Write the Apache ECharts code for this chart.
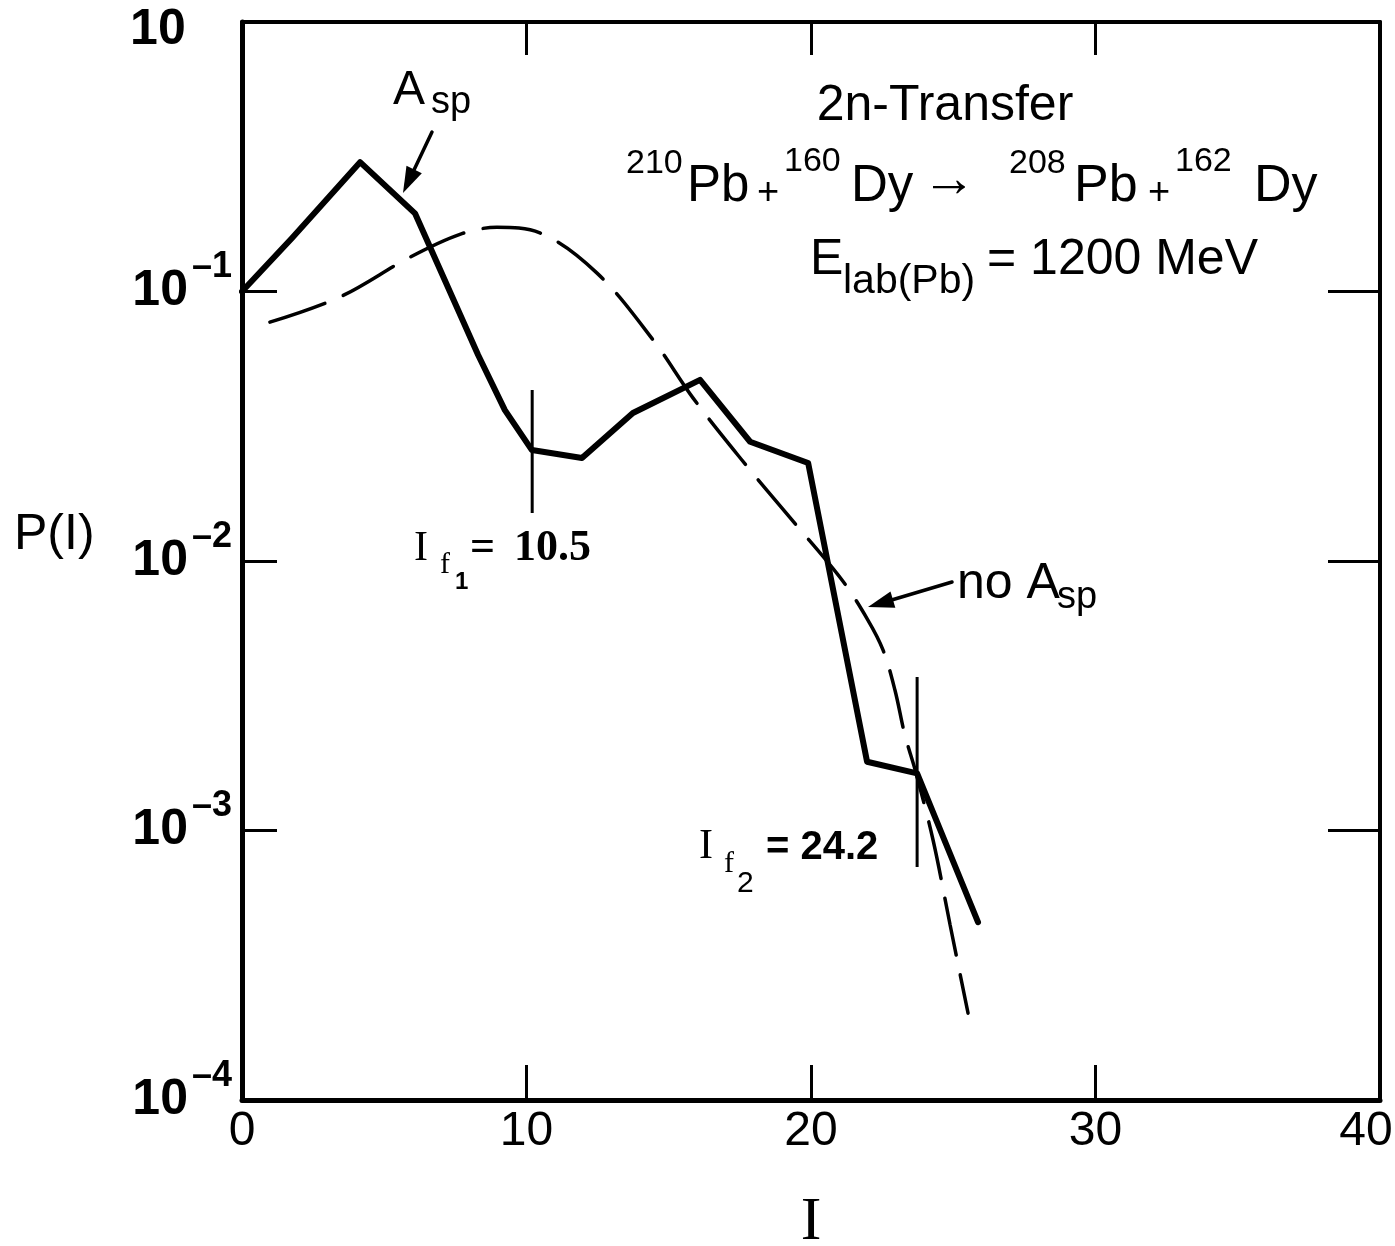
<!DOCTYPE html>
<html><head><meta charset="utf-8">
<script src="https://cdn.jsdelivr.net/npm/echarts@6/dist/echarts.min.js"></script>
<style>html,body{margin:0;padding:0;background:#fff}#c{width:1395px;height:1246px}</style>
</head><body><div id="c"></div>
<script>
// ---------- data ----------
const xTickValues = [0, 10, 20, 30, 40];
const yTickValues = [1, 0.1, 0.01, 0.001, 0.0001];
const yTickExponents = ['', '\u20131', '\u20132', '\u20133', '\u20134'];

// solid curve: with A_sp
const withAspI = [0, 1.76, 4.15, 6.08, 8.30, 9.24, 10.19, 11.95, 13.74, 16.1, 17.86, 19.9, 21.97, 23.73, 25.87];
const withAspP = [0.1, 0.158, 0.302, 0.195, 0.0581, 0.0363, 0.0258, 0.0241, 0.0354, 0.0470, 0.0277, 0.0231, 0.00180, 0.00163, 0.000457];

// dashed curve: no A_sp
const noAspI = [0.98, 3.44, 5.90, 7.66, 8.96, 10.47, 12.48, 14.45, 15.85, 17.57, 19.33, 21.09, 22.0, 22.53, 22.95, 23.30, 23.66, 24.29, 24.89, 25.52];
const noAspP = [0.0770, 0.0954, 0.134, 0.163, 0.173, 0.165, 0.117, 0.0661, 0.0403, 0.0237, 0.0142, 0.00850, 0.00604, 0.00468, 0.00332, 0.00226, 0.00168, 0.000922, 0.000446, 0.000210];

// vertical markers I_f1, I_f2
const markerI = [10.2, 23.73];
const markerPHigh = [0.0431, 0.00371];
const markerPLow = [0.01507, 0.000732];

// ---------- chart ----------
const FONT = "'Liberation Sans', Arial, Helvetica, sans-serif";
const SERIF = "'Liberation Serif', 'Times New Roman', serif";
const chart = echarts.init(document.getElementById('c'), null, {renderer: 'canvas'});

function zip(a, b) { return a.map((v, i) => [v, b[i]]); }

const markerSeries = markerI.map((I, k) => ({
  type: 'line', data: [[I, markerPHigh[k]], [I, markerPLow[k]]],
  xAxisIndex: 1, yAxisIndex: 1,
  showSymbol: false, symbol: 'none', silent: true,
  lineStyle: {color: '#000', width: 3}, z: 4
}));

function yLabel(v) {
  const k = yTickValues.findIndex(t => Math.abs(Math.log10(t) - Math.log10(v)) < 1e-6);
  if (k < 0) return '';
  if (yTickExponents[k] === '') return '{t|10}{u| }';
  return '{b|10}{s|' + yTickExponents[k] + '}';
}
function xLabel(v) {
  if (!xTickValues.includes(v)) return '';
  return v === xTickValues[xTickValues.length - 1] ? '{r|' + v + '}' : String(v);
}

// text helper: baseline positioning
function T(text, x, baseline, size, opt) {
  opt = opt || {};
  const weight = opt.weight || 'normal';
  const style = opt.style || 'normal';
  const fam = opt.family || FONT;
  return {
    type: 'text', x: x, y: baseline - 0.35 * size, z: 100,
    style: {
      text: text, fill: '#000',
      font: style + ' ' + weight + ' ' + size + 'px ' + fam,
      align: opt.align || 'left', verticalAlign: 'middle',
      textAlign: opt.align || 'left', textVerticalAlign: 'middle'
    }
  };
}
function arrow(x1, y1, x2, y2, L, W) {
  const dx = x2 - x1, dy = y2 - y1, len = Math.hypot(dx, dy);
  const ux = dx / len, uy = dy / len, px = -uy, py = ux;
  const bx = x2 - ux * L, by = y2 - uy * L;
  return [
    {type: 'line', z: 100, shape: {x1: x1, y1: y1, x2: bx + ux * 4, y2: by + uy * 4},
     style: {stroke: '#000', lineWidth: 3.5, lineCap: 'round'}},
    {type: 'polygon', z: 100, shape: {points: [[x2, y2], [bx + px * W / 2, by + py * W / 2], [bx - px * W / 2, by - py * W / 2]]},
     style: {fill: '#000'}}
  ];
}

const graphics = [
  // A_sp label
  T('A', 393, 108, 48),
  T('sp', 431, 116, 38),
  ...arrow(432, 132, 403, 193, 26, 17),
  // Title block
  T('2n-Transfer', 945, 124, 50, {align: 'center'}),
  T('210', 626, 176, 34),
  T('Pb', 687, 205, 51),
  T('+', 757, 207, 38),
  T('160', 784, 174, 34),
  T('Dy', 851, 205, 51),
  T('\u2192', 922, 200, 54),
  T('208', 1009, 176, 34),
  T('Pb', 1074, 205, 52),
  T('+', 1148, 207, 38),
  T('162', 1175, 174, 34),
  T('Dy', 1254, 205, 52),
  T('E', 810, 278, 50),
  T('lab(Pb)', 843, 296, 41),
  T('= 1200 MeV', 987, 278, 50),
  // I_f1 label
  T('I', 414, 564, 42, {family: SERIF}),
  T('f', 440, 576, 30, {family: SERIF}),
  T('1', 455, 591, 24, {family: FONT, weight: 'bold'}),
  T('=', 470, 564, 44, {family: SERIF, weight: 'bold'}),
  T('10.5', 514, 564, 44, {family: SERIF, weight: 'bold'}),
  // I_f2 label
  T('I', 699, 862, 42, {family: SERIF}),
  T('f', 724, 875, 30, {family: SERIF}),
  T('2', 737, 894, 30, {family: FONT}),
  T('= 24.2', 766, 862, 40, {family: FONT, weight: 'bold'}),
  // no A_sp
  T('no A', 957, 602, 50),
  T('sp', 1057, 611, 38),
  ...arrow(952, 582, 868, 607, 26, 17),
  // y axis title
  T('P(I)', 14, 553, 50),
];

chart.setOption({
  animation: false,
  backgroundColor: '#fff',
  grid: {left: 242, right: 15, top: 22, bottom: 146, containLabel: false, outerBoundsMode: 'none'},
  xAxis: [{
    type: 'value', min: 0, max: 40, interval: 10, position: 'bottom',
    axisLine: {onZero: false, lineStyle: {color: '#000', width: 5}},
    axisTick: {inside: true, length: 35, lineStyle: {color: '#000', width: 3}},
    splitLine: {show: false},
    axisLabel: {color: '#000', fontSize: 48, fontFamily: FONT, margin: 8, formatter: xLabel,
      rich: {r: {fontSize: 48, fontFamily: FONT, color: '#000', padding: [0, 28, 0, 0]}}},
    name: 'I', nameLocation: 'middle', nameGap: 92,
    nameTextStyle: {color: '#000', fontSize: 62, fontFamily: SERIF}
  }, {
    type: 'value', min: 0, max: 40, interval: 10, position: 'top',
    axisLine: {onZero: false, lineStyle: {color: '#000', width: 4}},
    axisTick: {inside: true, length: 33, lineStyle: {color: '#000', width: 3}},
    axisLabel: {show: false}, splitLine: {show: false}
  }],
  yAxis: [{
    type: 'log', logBase: 10, min: 0.0001, max: 1, position: 'left',
    axisLine: {onZero: false, lineStyle: {color: '#000', width: 5}},
    axisTick: {inside: true, length: 35, lineStyle: {color: '#000', width: 3}},
    splitLine: {show: false}, minorTick: {show: false},
    axisLabel: {
      margin: 10, formatter: yLabel,
      rich: {
        b: {fontSize: 50, fontWeight: 'bold', fontFamily: FONT, color: '#000', lineHeight: 84, verticalAlign: 'middle'},
        s: {fontSize: 36, fontWeight: 'bold', fontFamily: FONT, color: '#000', lineHeight: 36, verticalAlign: 'top', padding: [0, 0, 0, 4]},
        t: {fontSize: 50, fontWeight: 'bold', fontFamily: FONT, color: '#000', lineHeight: 50, verticalAlign: 'bottom', padding: [0, 46, 0, 0]},
        u: {fontSize: 1, lineHeight: 66, color: 'rgba(0,0,0,0)'}
      }
    }
  }, {
    type: 'log', logBase: 10, min: 0.0001, max: 1, position: 'right',
    axisLine: {onZero: false, lineStyle: {color: '#000', width: 4}},
    axisTick: {show: true, inside: true, length: 52, lineStyle: {color: '#000', width: 3}},
    axisLabel: {show: false},
    splitLine: {show: false}, minorTick: {show: false}
  }],
  series: [{
    name: 'A_sp', type: 'line', data: zip(withAspI, withAspP),
    showSymbol: false, symbol: 'none', silent: true,
    lineStyle: {color: '#000', width: 6, join: 'round', cap: 'round'}, z: 5
  }, {
    name: 'no A_sp', type: 'line', data: zip(noAspI, noAspP),
    showSymbol: false, symbol: 'none', silent: true, smooth: 0.35,
    lineStyle: {color: '#000', width: 3.5, type: [58, 20], cap: 'round'}, z: 3
  }, ...markerSeries],
  graphic: graphics
});
</script>
</body></html>
